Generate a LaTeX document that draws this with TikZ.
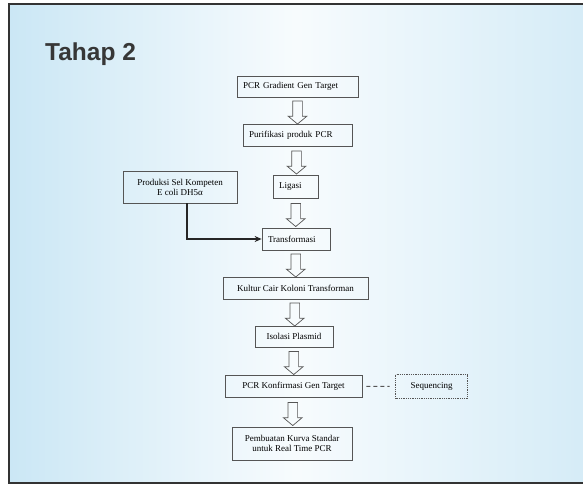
\documentclass[tikz,border=0pt]{standalone}
\usepackage{fontspec}
\setmainfont{Liberation Serif}
\newfontfamily\titlefont{Liberation Sans}
\usetikzlibrary{shapes.arrows,calc,arrows.meta}

\definecolor{bgblue}{RGB}{203,231,245}
\definecolor{boxline}{RGB}{85,85,85}
\definecolor{titlegray}{RGB}{55,55,55}

\begin{document}
\begin{tikzpicture}[
            x = 1pt, y = -1pt, % one unit per pixel, y going down
            box/.style = {draw=boxline, line width=0.7pt, inner sep=2pt,
                          font=\fontsize{9}{10}\selectfont, align=center},
            leftbox/.style = {box, align=left, inner xsep=6pt},
            downarrow/.style = {single arrow, draw=boxline, line width=0.7pt,
                          shape border rotate=270, inner sep=4.5pt,
                          single arrow head extend=4.5pt,
                          single arrow tip angle=100, minimum height=23pt}
        ]
\useasboundingbox (0,0) rectangle (583,490);

% slide background and frame
\shade[left color=bgblue, right color=bgblue!80, middle color=bgblue!15] (9,4) rectangle (583,483);
\draw[line width=2.5pt, black!80] (584,4) -- (9,4) -- (9,483) -- (584,483);

\node[anchor=base west, inner sep=0, text=titlegray,
      font=\titlefont\bfseries\fontsize{24.5}{28}\selectfont] (title) at (45,60) {Tahap 2};

% main column
\node[leftbox, minimum width=121pt, minimum height=21pt, text width=109pt] (grad) at (297.5,86.5) {PCR Gradient Gen Target};
\node[leftbox, minimum width=109pt, minimum height=22pt, text width=97pt] (puri) at (297.5,135) {Purifikasi produk PCR};
\node[leftbox, minimum width=45pt, minimum height=23pt, text width=33pt] (ligasi) at (295.5,186.5) {Ligasi};
\node[leftbox, minimum width=68pt, minimum height=22pt, text width=56pt] (trans) at (296,239) {Transformasi};
\node[box, minimum width=145pt, minimum height=22pt] (kultur) at (295.5,288) {Kultur Cair Koloni Transforman};
\node[box, minimum width=78pt, minimum height=21pt] (isolasi) at (294,336.5) {Isolasi Plasmid};
\node[box, minimum width=137pt, minimum height=22pt] (konf) at (293.5,386) {PCR Konfirmasi Gen Target};
\node[box, minimum width=120pt, minimum height=33pt] (pemb) at (292,443.5) {Pembuatan Kurva Standar\\untuk Real Time PCR};

% side boxes
\node[box, minimum width=114pt, minimum height=32pt] (prod) at (180,187) {Produksi Sel Kompeten\\E coli DH5α};
\node[box, draw=none, minimum width=71pt, minimum height=23pt] (seq) at (431.5,386.5) {Sequencing};
\draw[boxline, line width=0.8pt, densely dotted] (seq.north west) rectangle (seq.south east);

% block arrows
\node[downarrow] (a1) at ($(grad.south)!.5!(puri.north)$) {};
\node[downarrow] (a2) at ($(puri.south)!.5!(ligasi.north)$) {};
\node[downarrow] (a3) at ($(ligasi.south)!.5!(trans.north)$) {};
\node[downarrow] (a4) at ($(trans.south)!.5!(kultur.north)$) {};
\node[downarrow] (a5) at ($(kultur.south)!.5!(isolasi.north)$) {};
\node[downarrow] (a6) at ($(isolasi.south)!.5!(konf.north)$) {};
\node[downarrow] (a7) at ($(konf.south)!.5!(pemb.north)$) {};

\draw[-{Stealth[length=7pt,width=6pt]}, line width=1.4pt, black!85] ([xshift=7pt]prod.south) |- (trans.west);
\draw[boxline, line width=1pt, dash pattern=on 4pt off 3pt, shorten <=4pt, shorten >=6pt] (konf) -- (seq);
\end{tikzpicture}
\end{document}
